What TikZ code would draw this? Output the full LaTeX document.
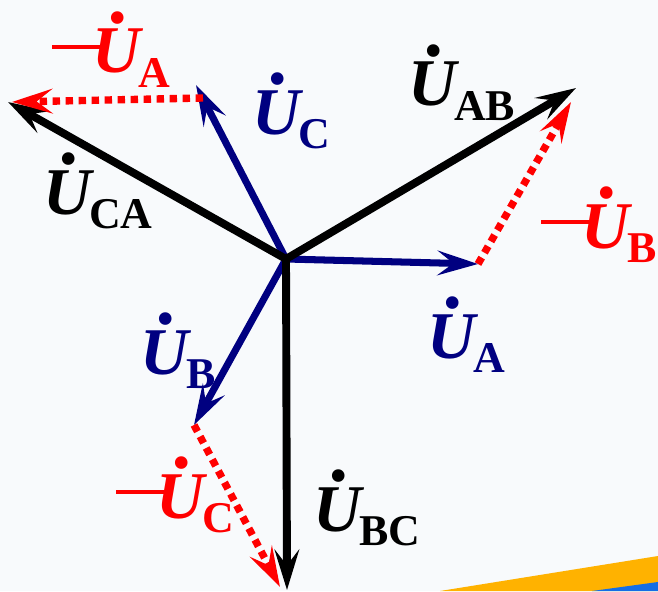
\documentclass[tikz,border=0pt]{standalone}
\usepackage{fontspec}
\setmainfont{Liberation Serif}
\usepackage{xcolor}
\definecolor{vNavy}{rgb}{0.0,0.0,0.5}
\definecolor{vRed}{rgb}{1,0,0}
\definecolor{vBack}{RGB}{248,250,252}
\definecolor{vOrange}{RGB}{255,178,0}
\definecolor{vBlue}{RGB}{20,110,230}
\usetikzlibrary{arrows.meta}
% phasor labels: dotted U with bold subscript
\newcommand{\Udot}{\makebox[0pt][l]{\hspace{9pt}\raisebox{21.5pt}{\fontsize{30}{30}\selectfont\textbullet}}}
\newcommand{\ph}[1]{\Udot\textbf{\textit{U}}\kern-3pt\raisebox{-8pt}{\fontsize{25}{25}\selectfont\textbf{#1}}}
\newcommand{\negph}[1]{\rule[13.5pt]{27pt}{2.4pt}\kern-4pt\ph{#1}}
\tikzset{
  phasorblack/.style={
    -{Stealth[length=23pt,width=14pt,inset=9pt]},
    line width=4.5pt,
    black
  },
  phasorblue/.style={
    -{Stealth[length=23pt,width=14pt,inset=9pt]},
    line width=4pt,
    vNavy
  },
  phasorred/.style={
    -{Stealth[length=23pt,width=14pt,inset=9pt]},
    line width=4.2pt,
    vRed,
    dash pattern=on 4.2pt off 3.2pt
  },
  phlabel/.style={anchor=base west, inner sep=0pt, font=\fontsize{38}{38}\selectfont}
}
\begin{document}
\begin{tikzpicture}[x=0.02cm, y=-0.02cm]
  % background and slide stripe
  \fill[vBack] (0,0) rectangle (658,591);
  \useasboundingbox (0,0) rectangle (658,591);
  \fill[vOrange] (440,591) -- (658,556) -- (658,591) -- cycle;
  \fill[vBlue] (592,591) -- (658,582) -- (658,591) -- cycle;

  % vector ends
  \coordinate (O) at (286,259);
  \coordinate (tA) at (478,264);
  \coordinate (tB) at (194,425);
  \coordinate (tC) at (196,85);
  \coordinate (tAB) at (576,88);
  \coordinate (tBC) at (287,590);
  \coordinate (tCA) at (8,102);
  \coordinate (sA) at (203,98);
  \coordinate (eA) at (12,102);
  \coordinate (eB) at (571,102);
  \coordinate (eC) at (280,587);

  \foreach \t in {tA,tB,tC}
    \draw[phasorblue] (O) -- (\t);
  \foreach \t in {tAB,tBC,tCA}
    \draw[phasorblack] (O) -- (\t);
  \draw[phasorred] (sA) -- (eA);
  \draw[phasorred] (tA) -- (eB);
  \draw[phasorred] (tB) -- (eC);

  % labels
  \node[phlabel, text=vRed] (lmA) at (52,73) {\negph{A}};
  \node[phlabel, text=vNavy] (lC) at (252,134) {\ph{C}};
  \node[phlabel] (lCA) at (43,214) {\ph{CA}};
  \node[phlabel] (lAB) at (408,106) {\ph{AB}};
  \node[phlabel, text=vRed] (lmB) at (541,248) {\negph{B}};
  \node[phlabel, text=vNavy] (lA) at (427,358) {\ph{A}};
  \node[phlabel, text=vNavy] (lB) at (140,374) {\ph{B}};
  \node[phlabel, text=vRed] (lmC) at (116,518) {\negph{C}};
  \node[phlabel] (lBC) at (313,531) {\ph{BC}};
\end{tikzpicture}
\end{document}
